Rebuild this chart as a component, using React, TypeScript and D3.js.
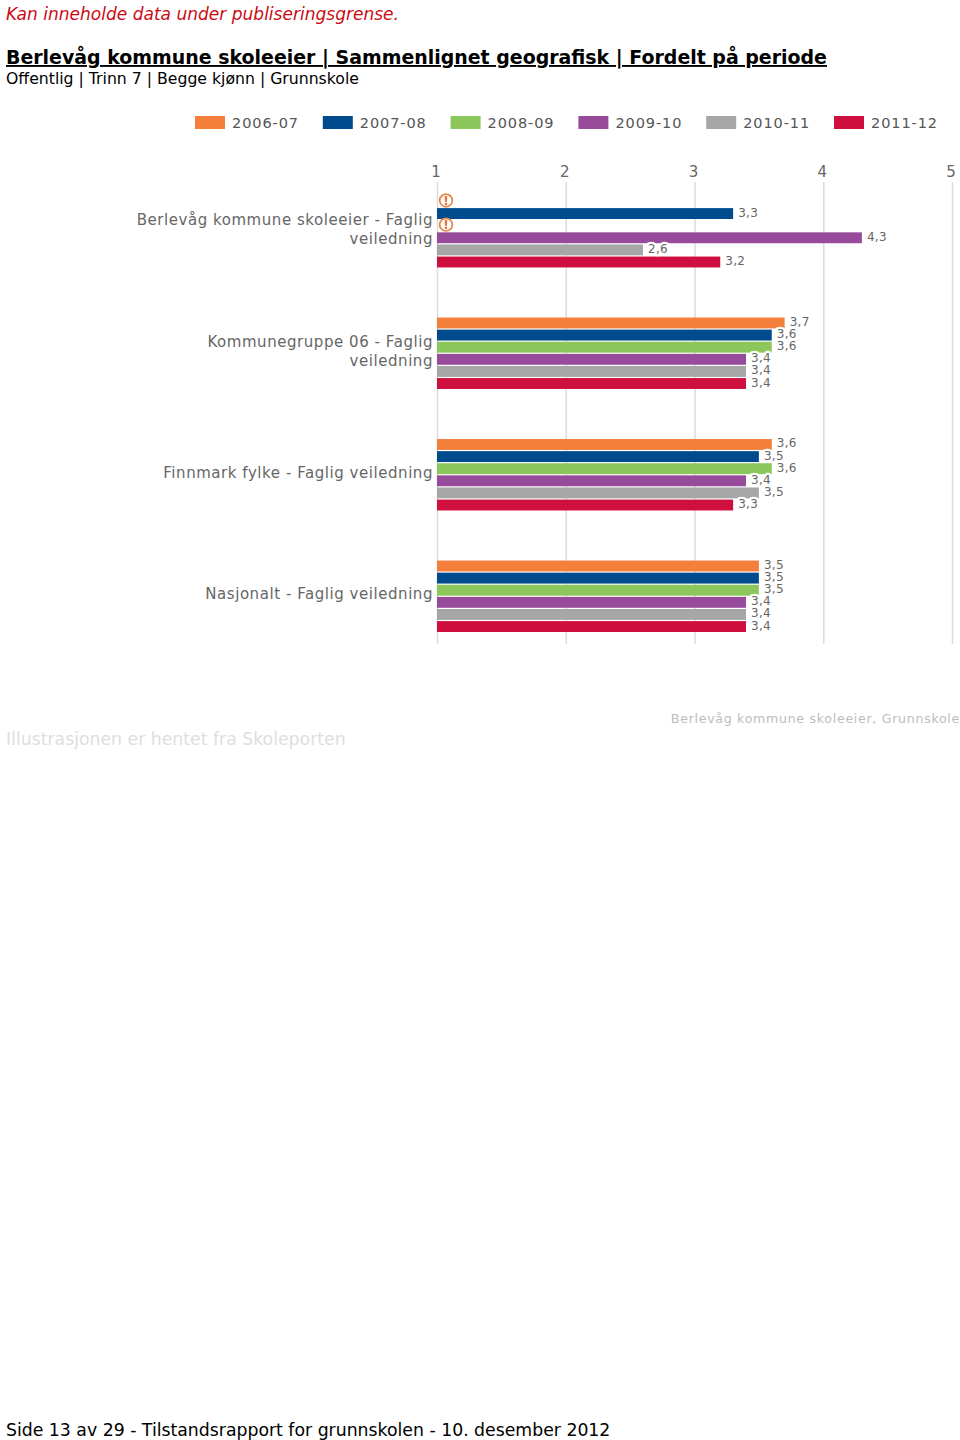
import React, { useEffect, useRef } from 'react';
import * as d3 from 'd3';

const seasons = ['2006-07', '2007-08', '2008-09', '2009-10', '2010-11', '2011-12'];
const seasonColors = ['#f47f3b', '#004b8d', '#8bc75a', '#984b9b', '#a6a6a6', '#cf103e'];

const categories = ['berlevag', 'kommunegruppe', 'finnmark', 'nasjonalt'];
const categoryLabels = [
    ['Berlevåg kommune skoleeier - Faglig', 'veiledning'],
    ['Kommunegruppe 06 - Faglig', 'veiledning'],
    ['Finnmark fylke - Faglig veiledning'],
    ['Nasjonalt - Faglig veiledning'],
];

// null = under publiseringsgrense, drawn as a warning icon
const berlevagValues = [null, 3.3, null, 4.3, 2.6, 3.2];
const kommunegruppeValues = [3.7, 3.6, 3.6, 3.4, 3.4, 3.4];
const finnmarkValues = [3.6, 3.5, 3.6, 3.4, 3.5, 3.3];
const nasjonaltValues = [3.5, 3.5, 3.5, 3.4, 3.4, 3.4];
const allValues = [berlevagValues, kommunegruppeValues, finnmarkValues, nasjonaltValues];

const axisTicks = [1, 2, 3, 4, 5];

const FONT = 'Verdana, "DejaVu Sans", sans-serif';

const App: React.FC = () => {
    const chartRef = useRef<SVGGElement | null>(null);

    useEffect(() => {
        const chart = d3.select(chartRef.current);
        chart.selectAll('*').remove();

        const x = d3.scaleLinear().domain([1, 5]).range([437, 952]);
        const y0 = d3.scaleBand().domain(categories).range([196, 632]).paddingInner(0.412);
        const y1 = d3.scaleBand().domain(seasons).range([0, y0.bandwidth()]).paddingInner(0.1);

        // Legend
        const legendX = d3.scaleLinear().domain([0, 5]).range([195, 834]);
        const legend = chart
            .append('g')
            .selectAll('g')
            .data(seasons)
            .join('g')
            .attr('transform', (_, i) => `translate(${legendX(i)},116)`);
        legend
            .append('rect')
            .attr('width', 30)
            .attr('height', 13)
            .attr('fill', (_, i) => seasonColors[i]);
        legend
            .append('text')
            .attr('x', 37)
            .attr('y', 12)
            .attr('font-size', 14.5)
            .attr('letter-spacing', 0.9)
            .attr('fill', '#555')
            .text((d) => d);

        // Axis with gridlines
        const axis = d3.axisTop(x).tickValues(axisTicks).tickSize(0).tickFormat(d3.format('d'));
        const axisGroup = chart.append('g').attr('transform', 'translate(0,182)').call(axis);
        axisGroup.select('.domain').remove();
        axisGroup
            .selectAll('text')
            .attr('y', -5)
            .attr('x', -1.5)
            .attr('font-family', FONT)
            .attr('font-size', 15)
            .attr('fill', '#666');
        axisGroup
            .selectAll('.tick line')
            .attr('y2', 462)
            .attr('stroke', '#dcdcdc')
            .attr('stroke-width', 1.5);

        // Category labels
        const labelLine = 19;
        chart
            .append('g')
            .selectAll('text')
            .data(categories)
            .join('text')
            .attr('text-anchor', 'end')
            .attr('font-size', 15)
            .attr('letter-spacing', 0.55)
            .attr('fill', '#666')
            .each(function (d, i) {
                const lines = categoryLabels[i];
                const centre = (y0(d) as number) + y0.bandwidth() / 2 - 2;
                d3.select(this)
                    .selectAll('tspan')
                    .data(lines)
                    .join('tspan')
                    .attr('x', 433)
                    .attr('y', (_, j) => centre + 5 + (j - (lines.length - 1) / 2) * labelLine)
                    .text((t) => t);
            });

        // Bars
        const groups = chart
            .append('g')
            .selectAll('g')
            .data(categories)
            .join('g')
            .attr('transform', (d) => `translate(0,${y0(d)})`);

        groups.each(function (_, c) {
            const group = d3.select(this);
            const rows = seasons.map((s, i) => ({ season: s, color: seasonColors[i], value: allValues[c][i] }));

            group
                .selectAll('rect')
                .data(rows.filter((r) => r.value !== null))
                .join('rect')
                .attr('x', x(1))
                .attr('y', (r) => y1(r.season) as number)
                .attr('width', (r) => x(r.value as number) - x(1))
                .attr('height', y1.bandwidth())
                .attr('fill', (r) => r.color);
        });

        // Value labels sit on top of all bars, white halo cuts into the neighbours
        groups.each(function (_, c) {
            const group = d3.select(this);
            const rows = seasons.map((s, i) => ({ season: s, color: seasonColors[i], value: allValues[c][i] }));

            group
                .selectAll('text.value')
                .data(rows.filter((r) => r.value !== null))
                .join('text')
                .attr('class', 'value')
                .attr('x', (r) => x(r.value as number) + 5)
                .attr('y', (r) => (y1(r.season) as number) + y1.bandwidth() / 2 + 3)
                .attr('font-size', 12)
                .attr('letter-spacing', 0.3)
                .attr('fill', '#666')
                .attr('stroke', '#fff')
                .attr('stroke-width', 4.5)
                .attr('stroke-linejoin', 'round')
                .attr('paint-order', 'stroke')
                .text((r) => d3.format('.1f')(r.value as number).replace('.', ','));

            const missing = group
                .selectAll('g.missing')
                .data(rows.filter((r) => r.value === null))
                .join('g')
                .attr('class', 'missing')
                .attr('transform', (r) => `translate(${x(1) + 9},${(y1(r.season) as number) + y1.bandwidth() / 2 - 1})`);
            missing
                .append('circle')
                .attr('r', 6.3)
                .attr('fill', '#fff')
                .attr('stroke', '#e8894f')
                .attr('stroke-width', 1.8);
            missing
                .append('text')
                .attr('text-anchor', 'middle')
                .attr('y', 4.5)
                .attr('font-size', 12)
                .attr('font-weight', 'bold')
                .attr('fill', '#e2702f')
                .text('!');
        });
    }, []);

    return (
        <svg
            width={960}
            height={1440}
            fontFamily={FONT}
            style={{ position: 'absolute', left: 0, top: 0, background: '#fff' }}
        >
            <text x={6} y={20} fontSize={17.05} fontStyle="italic" fill="#cc0a14">
                Kan inneholde data under publiseringsgrense.
            </text>
            <text x={6} y={64} fontSize={18.96} fontWeight="bold" fill="#000" textDecoration="underline">
                Berlevåg kommune skoleeier | Sammenlignet geografisk | Fordelt på periode
            </text>
            <text x={6} y={84} fontSize={15.7} fill="#000">
                Offentlig | Trinn 7 | Begge kjønn | Grunnskole
            </text>
            <g ref={chartRef} />
            <text x={6} y={745} fontSize={17.3} fill="#dedede">
                Illustrasjonen er hentet fra Skoleporten
            </text>
            <text x={960} y={723} fontSize={12.6} textAnchor="end" letterSpacing={0.7} fill="#bdbdbd">
                Berlevåg kommune skoleeier, Grunnskole
            </text>
            <text x={6} y={1436} fontSize={17.3} fill="#000">
                Side 13 av 29 - Tilstandsrapport for grunnskolen - 10. desember 2012
            </text>
        </svg>
    );
};

export default App;
